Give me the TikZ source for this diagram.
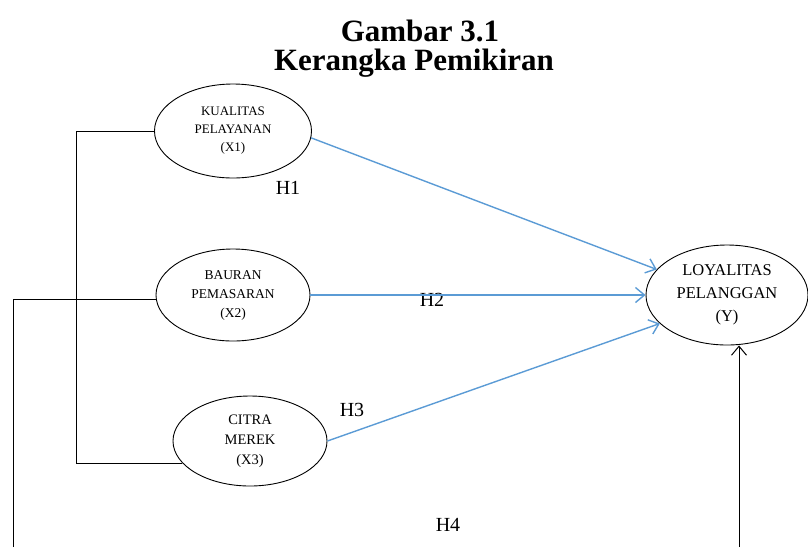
\documentclass[tikz,border=0pt]{standalone}
\usepackage{fontspec}
\setmainfont{Liberation Serif}
\usetikzlibrary{shapes.geometric,arrows.meta}
\begin{document}
\begin{tikzpicture}[
        x=1pt, y=-1pt,
        var/.style={draw, ellipse, line width=0.9pt, inner sep=0pt, align=center,
            font=\fontsize{13}{18}\selectfont},
        hyp/.style={font=\fontsize{20}{24}\selectfont},
        link/.style={draw, line width=1pt},
        path/.style={draw, line width=1.4pt, color=pathblue, -{Straight Barb[length=9pt,width=15pt]}},
    ]
    \definecolor{pathblue}{RGB}{91,155,213}
    \useasboundingbox (0,0) rectangle (808,547);
    % judul
    \node[font=\bfseries\fontsize{31}{36}\selectfont](judul1) at (420,31){Gambar 3.1};
    \node[font=\bfseries\fontsize{31}{36}\selectfont](judul2) at (414,63){Kerangka Pemikiran};
    % variabel
    \node[var, minimum width=157pt, minimum height=94pt](x1) at (233,131){KUALITAS\\PELAYANAN\\(X1)};
    \node[var, minimum width=154pt, minimum height=92pt, font=\fontsize{13.5}{19}\selectfont](x2) at (233,295){BAURAN\\PEMASARAN\\(X2)};
    \node[var, minimum width=154pt, minimum height=90pt, font=\fontsize{14.5}{20}\selectfont](x3) at (250,441){CITRA\\MEREK\\(X3)};
    \node[var, minimum width=162pt, minimum height=100pt, font=\fontsize{16.5}{23}\selectfont](y) at (727,295){LOYALITAS\\PELANGGAN\\(Y)};
    % hipotesis
    \node[hyp](h1) at (288,188){H1};
    \node[hyp](h2) at (432,300){H2};
    \node[hyp](h3) at (352,410){H3};
    \node[hyp](h4) at (448,525){H4};
    \coordinate (b1) at (13,547);
    \coordinate (b2) at (739,547);
    % garis
    \draw[link] (x1.west) -- ++(-78,0) |- (x3.198);
    \draw[link] (b1) |- (x2.183);
    \draw[link, -{Straight Barb[length=9pt,width=15pt]}] (b2) -- (b2 |- y.south);
    \draw[path] (x1.-5) -- (y.160);
    \draw[path] (x2.east) -- (y.west);
    \draw[path] (x3.east) -- (y.203);
\end{tikzpicture}
\end{document}
